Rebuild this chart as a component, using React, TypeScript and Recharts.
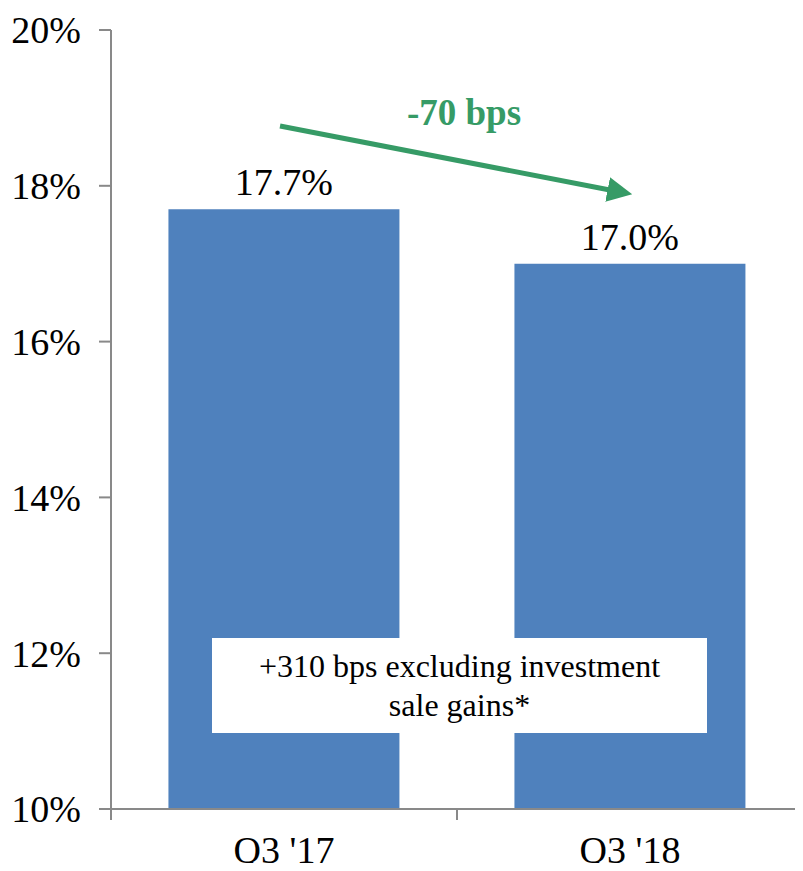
import { BarChart, Bar, XAxis, YAxis, LabelList } from 'recharts'

const quarters = ["Q3 '17", "Q3 '18"]
const margins = [17.7, 17.0]
const yTicks = [10, 12, 14, 16, 18, 20]
const changeLabel = '-70 bps'
const noteLines = ['+310 bps excluding investment', 'sale gains*']

const data = quarters.map((q, i) => ({ q, value: margins[i] }))

const FONT = '"Liberation Serif", "Times New Roman", serif'
const AXIS = '#898989'
const GREEN = '#369b66'

// category label plus a tick mark on the category boundaries (Excel style)
function BoundaryTick(props: any) {
  const { x, y, payload, index, visibleTicksCount } = props
  const half = 173
  return (
    <g>
      <line x1={x - half} y1={y - 14} x2={x - half} y2={y - 3} stroke={AXIS} strokeWidth={2} />
      {index === visibleTicksCount - 1 && (
        <line x1={x + half} y1={y - 14} x2={x + half} y2={y - 3} stroke={AXIS} strokeWidth={2} />
      )}
      <text x={x} y={y + 13} dy="0.71em" textAnchor="middle" fontSize={38} fill="#000" fontFamily={FONT}>
        {payload.value}
      </text>
    </g>
  )
}

export default function App() {
  return (
    <div style={{ position: 'relative', width: 803, height: 871, margin: -8, background: '#fff', fontFamily: FONT }}>
      <BarChart width={803} height={871} data={data} margin={{ top: 30, right: 0, left: 0, bottom: 0 }} barCategoryGap="16.6%">
        <XAxis
          dataKey="q"
          height={62}
          stroke={AXIS}
          strokeWidth={2}
          tickLine={false}
          tickSize={12}
          tick={<BoundaryTick />}
          interval={0}
        />
        <YAxis
          width={111}
          domain={[10, 20]}
          ticks={yTicks}
          stroke={AXIS}
          strokeWidth={2}
          tickSize={12}
          tickMargin={18}
          tickFormatter={v => `${v}%`}
          tick={{ fontSize: 38, fill: '#000', fontFamily: FONT }}
        />
        <Bar dataKey="value" fill="#4f81bd" isAnimationActive={false}>
          <LabelList
            dataKey="value"
            position="top"
            offset={14}
            formatter={(v: number) => `${v.toFixed(1)}%`}
            style={{ fontSize: 38, fill: '#000', fontFamily: FONT }}
          />
        </Bar>
      </BarChart>

      <svg width={803} height={871} style={{ position: 'absolute', left: 0, top: 0, pointerEvents: 'none' }}>
        <defs>
          <marker id="arrowHead" markerWidth="5" markerHeight="5" refX="1.5" refY="2.5" orient="auto" markerUnits="strokeWidth">
            <path d="M0,0 L5,2.5 L0,5 z" fill={GREEN} />
          </marker>
        </defs>
        <line x1={280} y1={126} x2={615} y2={191} stroke={GREEN} strokeWidth={5} markerEnd="url(#arrowHead)" />
        <text x={464} y={125} textAnchor="middle" fill={GREEN} fontWeight="bold" fontSize={37} fontFamily={FONT}>
          {changeLabel}
        </text>
      </svg>

      <div
        style={{
          position: 'absolute',
          left: 212,
          top: 638,
          width: 495,
          height: 95,
          background: '#fff',
          display: 'flex',
          flexDirection: 'column',
          alignItems: 'center',
          justifyContent: 'center',
          fontSize: 32,
          lineHeight: '39px',
          color: '#000',
        }}
      >
        {noteLines.map(l => <div key={l}>{l}</div>)}
      </div>
    </div>
  )
}
